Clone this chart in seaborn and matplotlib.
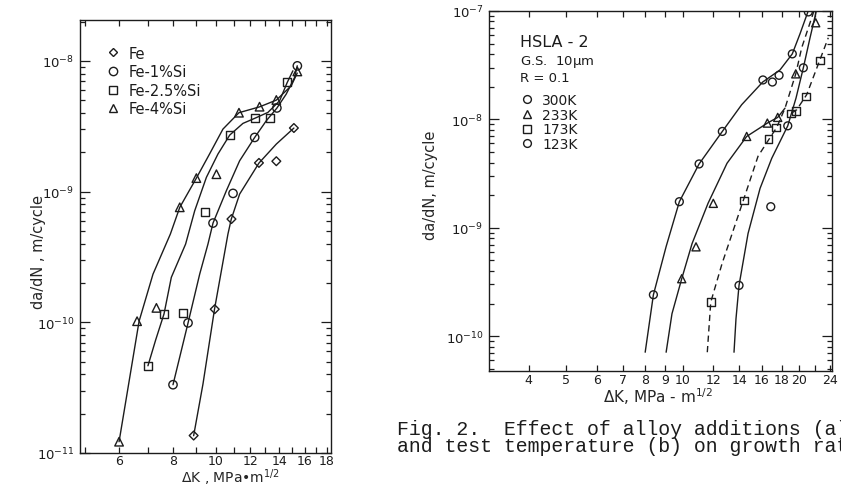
import matplotlib
matplotlib.use("Agg")
import matplotlib.pyplot as plt
from matplotlib.lines import Line2D
from matplotlib.ticker import (FixedLocator, FixedFormatter, NullFormatter,
                               LogLocator, LogFormatterMathtext)
import seaborn as sns

# ---------------- (a) Fe and Fe-Si alloys ----------------
# measured points: stress-intensity range (MPa m^1/2) and growth rate (m/cycle)
fe_dk = [8.90, 9.95, 10.87, 12.57, 13.78, 15.12]
fe_rate = [1.36e-11, 1.26e-10, 6.17e-10, 1.66e-9, 1.71e-9, 3.07e-9]
si1_dk = [7.98, 8.64, 9.86, 10.96, 12.29, 13.82, 15.40]
si1_rate = [3.33e-11, 9.9e-11, 5.75e-10, 9.7e-10, 2.60e-9, 4.37e-9, 9.18e-9]
si25_dk = [7.00, 7.61, 8.41, 9.45, 10.77, 12.29, 13.30, 14.60]
si25_rate = [4.66e-11, 1.16e-10, 1.18e-10, 6.98e-10, 2.71e-9, 3.64e-9,
             3.64e-9, 6.86e-9]
si4_dk = [6.00, 6.60, 7.31, 8.27, 9.03, 10.04, 11.31, 12.61, 13.78, 15.40]
si4_rate = [1.22e-11, 1.02e-10, 1.29e-10, 7.59e-10, 1.27e-9, 1.36e-9,
            4.02e-9, 4.47e-9, 5.03e-9, 8.32e-9]

# hand-faired trend curves
fe_fit_dk = [8.90, 9.35, 9.94, 10.67, 10.86, 11.35, 12.57, 13.78, 15.12]
fe_fit_rate = [1.356e-11, 3.37e-11, 1.264e-10, 4.74e-10, 6.17e-10, 9.58e-10,
               1.655e-9, 2.313e-9, 3.066e-9]
si1_fit_dk = [7.98, 8.64, 9.19, 9.60, 9.86, 10.58, 11.35, 12.29, 13.07,
              13.82, 14.52, 15.18, 15.39]
si1_fit_rate = [3.33e-11, 9.88e-11, 2.34e-10, 3.97e-10, 5.75e-10, 1.016e-9,
                1.723e-9, 2.60e-9, 3.49e-9, 4.36e-9, 5.58e-9, 7.49e-9, 9.19e-9]
si25_fit_dk = [6.99, 7.28, 7.61, 7.91, 8.53, 8.95, 9.52, 10.12, 10.77, 11.55,
               12.29, 13.18, 14.02, 14.60, 15.04]
si25_fit_rate = [4.65e-11, 7.32e-11, 1.16e-10, 2.21e-10, 3.97e-10, 7.14e-10,
                 1.286e-9, 1.94e-9, 2.71e-9, 3.33e-9, 3.64e-9, 4.04e-9,
                 4.96e-9, 6.86e-9, 8.41e-9]
si4_fit_dk = [6.00, 6.22, 6.67, 7.18, 7.87, 8.27, 9.03, 9.68, 10.39, 11.31,
              12.62, 13.78, 14.91, 15.39]
si4_fit_rate = [1.22e-11, 2.51e-11, 1.02e-10, 2.34e-10, 4.74e-10, 7.58e-10,
                1.27e-9, 1.94e-9, 3.01e-9, 4.02e-9, 4.46e-9, 5.02e-9,
                6.46e-9, 8.08e-9]

alloy_labels = ["Fe", "Fe-1%Si", "Fe-2.5%Si", "Fe-4%Si"]
alloy_ticks = [6, 8, 10, 12, 14, 16, 18]
alloy_minor = [5, 7, 9, 11, 13, 15, 17]

# ---------------- (b) HSLA-2 at four test temperatures ----------------
t300_dk = [8.40, 9.80, 11.02, 12.65, 16.10, 17.03, 17.72, 19.17, 21.09]
t300_rate = [2.41e-10, 1.74e-9, 3.88e-9, 7.74e-9, 2.31e-8, 2.21e-8, 2.55e-8,
             4.02e-8, 9.8e-8]
t233_dk = [9.94, 10.82, 11.99, 14.62, 16.53, 17.58, 19.57, 22.03]
t233_rate = [3.39e-10, 6.67e-10, 1.68e-9, 6.96e-9, 9.24e-9, 1.043e-8,
             2.63e-8, 7.79e-8]
t173_dk = [11.81, 14.39, 16.63, 17.40, 18.99, 19.60, 20.76, 22.64]
t173_rate = [2.06e-10, 1.78e-9, 6.57e-9, 8.43e-9, 1.137e-8, 1.20e-8,
             1.62e-8, 3.49e-8]
t123_dk = [13.97, 16.87, 18.66, 20.47]
t123_rate = [2.94e-10, 1.565e-9, 8.72e-9, 2.99e-8]

t300_fit_dk = [8.00, 8.40, 9.06, 9.80, 11.02, 12.65, 14.19, 16.08, 17.82,
               19.17, 20.07, 21.09]
t300_fit_rate = [7.11e-11, 2.41e-10, 6.71e-10, 1.74e-9, 3.88e-9, 7.74e-9,
                 1.365e-8, 2.21e-8, 2.86e-8, 4.02e-8, 6.16e-8, 1.01e-7]
t233_fit_dk = [9.06, 9.38, 9.94, 10.57, 11.62, 13.01, 14.62, 16.53, 17.58,
               18.36]
t233_fit_rate = [7.11e-11, 1.61e-10, 3.39e-10, 7.15e-10, 1.68e-9, 3.94e-9,
                 6.96e-9, 9.24e-9, 1.043e-8, 1.27e-8]
t173_fit_dk = [11.57, 11.81, 12.63, 14.39, 15.64, 16.70, 17.48, 18.36, 19.57,
               20.27, 21.94]
t173_fit_rate = [7.11e-11, 2.06e-10, 4.67e-10, 1.87e-9, 4.57e-9, 6.57e-9,
                 8.43e-9, 1.27e-8, 2.63e-8, 4.57e-8, 1.07e-7]
t173_branch_dk = [19.10, 19.68, 20.88, 22.60, 23.74]
t173_branch_rate = [1.144e-8, 1.227e-8, 1.69e-8, 3.56e-8, 5.66e-8]
t123_fit_dk = [13.56, 13.72, 13.97, 14.74, 15.83, 16.97, 18.66, 19.60, 20.47,
               21.30, 22.16]
t123_fit_rate = [7.11e-11, 1.446e-10, 2.94e-10, 8.86e-10, 2.31e-9, 4.38e-9,
                 8.72e-9, 1.574e-8, 2.99e-8, 5.66e-8, 1.035e-7]

temp_labels = ["300K", "233K", "173K", "123K"]
temp_ticks = [4, 5, 6, 7, 8, 9, 10, 12, 14, 16, 18, 20, 22, 24]
temp_tick_labels = ["4", "5", "6", "7", "8", "9", "10", "12", "14", "16",
                    "18", "20", "", "24"]

caption = ("Fig. 2.  Effect of alloy additions (a)\n"
           "and test temperature (b) on growth rate.")

# ---------------- styling ----------------
sns.set_style("ticks")
plt.rcParams["font.family"] = ["DejaVu Sans"]
plt.rcParams["mathtext.default"] = "regular"
INK = "#1c1c1c"
plt.rcParams["text.color"] = INK
plt.rcParams["axes.edgecolor"] = INK
plt.rcParams["xtick.color"] = INK
plt.rcParams["ytick.color"] = INK

fig = plt.figure(figsize=(8.41, 4.89), dpi=100)
ax_a = fig.add_axes([0.0951, 0.0716, 0.2985, 0.8855])
ax_b = fig.add_axes([0.5815, 0.2399, 0.4078, 0.7356])

for ax in (ax_a, ax_b):
    ax.set_xscale("log")
    ax.set_yscale("log")


def curve(ax, dk, rate, dashed=False):
    sns.lineplot(x=dk, y=rate, ax=ax, sort=False, estimator=None, color=INK,
                 lw=1.0, linestyle=(0, (4.5, 3.0)) if dashed else "-",
                 zorder=2)


def points(ax, dk, rate, marker, size):
    sns.scatterplot(x=dk, y=rate, ax=ax, marker=marker, s=size,
                    facecolor="none", edgecolor=INK, linewidth=1.0,
                    zorder=3, legend=False)


# panel (a)
curve(ax_a, fe_fit_dk, fe_fit_rate)
curve(ax_a, si1_fit_dk, si1_fit_rate)
curve(ax_a, si25_fit_dk, si25_fit_rate)
curve(ax_a, si4_fit_dk, si4_fit_rate)
points(ax_a, fe_dk, fe_rate, "D", 20)
points(ax_a, si1_dk, si1_rate, "o", 36)
points(ax_a, si25_dk, si25_rate, "s", 34)
points(ax_a, si4_dk, si4_rate, "^", 38)

# panel (b)
curve(ax_b, t300_fit_dk, t300_fit_rate)
curve(ax_b, t233_fit_dk, t233_fit_rate)
curve(ax_b, t173_fit_dk, t173_fit_rate, dashed=True)
curve(ax_b, t173_branch_dk, t173_branch_rate, dashed=True)
curve(ax_b, t123_fit_dk, t123_fit_rate)
points(ax_b, t300_dk, t300_rate, "o", 32)
points(ax_b, t233_dk, t233_rate, "^", 34)
points(ax_b, t173_dk, t173_rate, "s", 30)
points(ax_b, t123_dk, t123_rate, "o", 32)

# axes limits and ticks
ax_a.set_xlim(4.88, 18.4)
ax_a.set_ylim(1e-11, 2.06e-8)
ax_a.xaxis.set_major_locator(FixedLocator(alloy_ticks))
ax_a.xaxis.set_major_formatter(FixedFormatter([str(t) for t in alloy_ticks]))
ax_a.xaxis.set_minor_locator(FixedLocator(alloy_minor))
ax_a.xaxis.set_minor_formatter(NullFormatter())

ax_b.set_xlim(3.164, 24.27)
ax_b.set_ylim(10 ** -10.3185, 1e-7)
ax_b.xaxis.set_major_locator(FixedLocator(temp_ticks))
ax_b.xaxis.set_major_formatter(FixedFormatter(temp_tick_labels))
ax_b.xaxis.set_minor_locator(FixedLocator([]))
ax_b.xaxis.set_minor_formatter(NullFormatter())

for ax in (ax_a, ax_b):
    ax.yaxis.set_major_locator(LogLocator(base=10, numticks=12))
    ax.yaxis.set_major_formatter(LogFormatterMathtext())
    ax.yaxis.set_minor_locator(LogLocator(base=10, subs=range(2, 10),
                                          numticks=100))
    ax.yaxis.set_minor_formatter(NullFormatter())
    ax.tick_params(which="both", direction="in", top=True, right=True,
                   width=0.9, labelsize=9.5, pad=4)
    ax.tick_params(axis="y", which="major", length=7)
    ax.tick_params(axis="y", which="minor", length=3.5)
    ax.tick_params(axis="x", which="both", length=4)
    for sp in ax.spines.values():
        sp.set_linewidth(1.0)
        sp.set_color(INK)
ax_a.tick_params(axis="x", which="major", labelsize=9, pad=1.0)
ax_b.tick_params(axis="x", which="major", labelsize=9, pad=1.5)

# axis titles
ax_a.set_ylabel("da/dN , m/cycle", fontsize=10.5)
ax_a.yaxis.set_label_coords(-0.135, 0.466)
ax_a.set_xlabel("ΔK , MPa•m$^{1/2}$", fontsize=10)
ax_a.xaxis.set_label_coords(0.60, -0.032)

ax_b.set_ylabel("da/dN, m/cycle", fontsize=10.5)
ax_b.yaxis.set_label_coords(-0.15, 0.519)
ax_b.set_xlabel("ΔK, MPa - m$^{1/2}$", fontsize=11)
ax_b.xaxis.set_label_coords(0.493, -0.04)

# legends
alloy_markers = [("D", 4.4), ("o", 6.0), ("s", 5.8), ("^", 6.2)]
handles_a = [Line2D([], [], ls="none", marker=m, ms=s, mfc="none", mec=INK,
                    mew=1.0) for m, s in alloy_markers]
ax_a.legend(handles_a, alloy_labels, loc="upper left",
            bbox_to_anchor=(0.102, 0.941), frameon=False, fontsize=10.5,
            borderpad=0, borderaxespad=0, handlelength=1.0,
            handletextpad=0.6, labelspacing=0.25)

temp_markers = [("o", 5.6), ("^", 5.8), ("s", 5.4), ("o", 5.6)]
handles_b = [Line2D([], [], ls="none", marker=m, ms=s, mfc="none", mec=INK,
                    mew=1.0) for m, s in temp_markers]
ax_b.legend(handles_b, temp_labels, loc="upper left",
            bbox_to_anchor=(0.0904, 0.772), frameon=False, fontsize=10,
            borderpad=0, borderaxespad=0, handlelength=1.0,
            handletextpad=0.6, labelspacing=0.05)

ax_b.text(0.0904, 0.914, "HSLA - 2", transform=ax_b.transAxes,
          fontsize=11.5, va="center", ha="left")
ax_b.text(0.0904, 0.861, "G.S.  10$\\mu$m", transform=ax_b.transAxes,
          fontsize=9.5, va="center", ha="left")
ax_b.text(0.0904, 0.816, "R = 0.1", transform=ax_b.transAxes,
          fontsize=9.5, va="center", ha="left")

# caption under panel (b)
fig.text(397 / 841, 1 - 438 / 489, caption, family="Liberation Mono",
         fontsize=14.3, va="center", ha="left", linespacing=0.82)

fig.savefig("out.png", dpi=100, facecolor="white")
